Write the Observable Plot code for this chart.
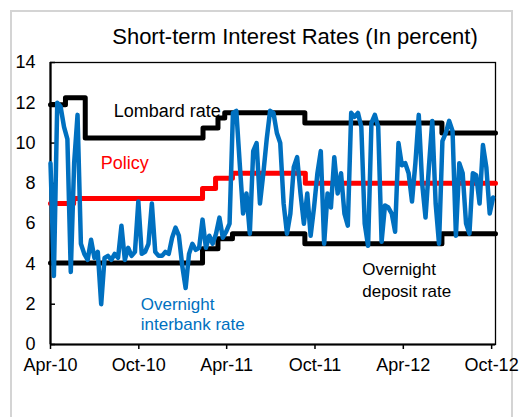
<!DOCTYPE html>
<html><head><meta charset="utf-8">
<script src="https://cdn.jsdelivr.net/npm/d3@7"></script>
<script src="https://cdn.jsdelivr.net/npm/@observablehq/plot@0.6"></script>
<style>
body{margin:0;background:#fff;}
#wrap{position:relative;width:526px;height:417px;overflow:hidden;font-family:"Liberation Sans",Arial,sans-serif;}
#border{position:absolute;left:10px;top:10px;width:503px;height:430px;border:2px solid #d4d4d4;box-sizing:border-box;}
#chart{position:absolute;left:0;top:0;}
</style></head><body>
<div id="wrap"><div id="border"></div><div id="chart"></div></div>
<script>
const title = "Short-term Interest Rates (In percent)";
const yTicks = [0, 2, 4, 6, 8, 10, 12, 14];
const xTickDates = ["2010-04-01", "2010-10-01", "2011-04-01", "2011-10-01", "2012-04-01", "2012-10-01"];
const xDomain = ["2010-04-01", "2012-10-09"];

const lombardDates = ["2010-04-01", "2010-05-02", "2010-06-12", "2011-02-11", "2011-03-14", "2011-03-28", "2011-09-10", "2012-06-20", "2012-10-09"];
const lombardValues = [11.9, 12.25, 10.25, 10.75, 11.25, 11.5, 11.0, 10.5, 10.5];

const policyDates = ["2010-04-01", "2010-05-19", "2011-02-10", "2011-03-09", "2011-04-13", "2011-09-11", "2012-10-09"];
const policyValues = [7.0, 7.25, 7.75, 8.25, 8.5, 8.0, 8.0];

const depositDates = ["2010-04-01", "2011-02-10", "2011-03-14", "2011-04-13", "2011-09-10", "2012-06-20", "2012-10-09"];
const depositValues = [4.05, 4.75, 5.25, 5.5, 5.0, 5.5, 5.5];

// overnight interbank rate, weekly readings starting 2010-04-01
const interbankStart = "2010-04-01";
const interbankValues = [
  9.0, 3.4, 12.0, 11.8, 10.8, 10.2, 3.6, 9.0, 11.4, 5.0,
  4.5, 4.2, 5.2, 4.3, 4.6, 2.0, 4.3, 4.4, 4.2, 4.5,
  4.3, 5.9, 4.2, 4.8, 4.4, 4.6, 7.1, 4.5, 4.6, 5.0,
  7.0, 4.6, 4.4, 4.4, 4.6, 4.5, 5.3, 5.8, 5.4, 3.9,
  2.8, 4.5, 5.0, 4.7, 4.8, 6.2, 4.8, 5.4, 5.0, 5.5,
  6.3, 5.3, 5.6, 6.0, 11.5, 11.6, 9.0, 6.5, 7.5, 5.5,
  9.6, 10.0, 7.0, 8.5, 10.2, 11.6, 11.5, 10.5, 10.0, 7.0,
  5.5, 6.5, 8.8, 9.3, 7.5, 6.0, 7.5, 5.4, 6.8, 8.5,
  9.6, 5.0, 7.5, 6.8, 9.3, 7.5, 8.5, 6.5, 5.9, 11.5,
  11.3, 11.5, 10.8, 6.0, 4.9, 11.0, 11.4, 10.8, 5.1, 6.9,
  6.8, 6.5, 5.6, 10.0, 8.9, 9.0, 8.5, 7.1, 9.0, 11.4,
  8.0, 6.3, 8.8, 11.1, 7.0, 5.0, 10.1, 10.5, 11.1, 10.6,
  5.4, 9.0, 8.5, 6.0, 5.5, 8.5, 8.4, 7.0, 9.9, 8.8,
  6.5, 7.3
];

const parse = d3.utcParse("%Y-%m-%d");
const toSeries = (dates, values) => dates.map((d, i) => ({date: parse(d), value: values[i]}));
const lombard = toSeries(lombardDates, lombardValues);
const policy = toSeries(policyDates, policyValues);
const deposit = toSeries(depositDates, depositValues);
const interbank = interbankValues.map((v, i) => ({date: d3.utcDay.offset(parse(interbankStart), 7 * i), value: v}));

const at = (s) => () => parse(s);
const val = (v) => () => v;

const chart = Plot.plot({
  width: 526,
  height: 417,
  marginLeft: 50,
  marginRight: 31,
  marginTop: 62,
  marginBottom: 73,
  style: {fontFamily: "'Liberation Sans', Arial, sans-serif", fontSize: "18px", color: "black", background: "transparent", overflow: "visible"},
  x: {type: "utc", domain: xDomain.map(parse), label: null},
  y: {domain: [0, 14], label: null},
  marks: [
    Plot.frame({stroke: "black", strokeWidth: 1.3}),
    Plot.axisY(yTicks, {tickSize: -5, text: null, strokeWidth: 1.5, label: null}),
    Plot.axisY(yTicks, {tickSize: 0, tickPadding: 15, fontSize: 18, label: null}),
    Plot.axisX(xTickDates.map(parse), {tickSize: 5, tickPadding: 9, strokeWidth: 1.5, tickFormat: d3.utcFormat("%b-%y"), fontSize: 18, label: null}),
    Plot.ruleX([parse(xDomain[0])], {stroke: "black", strokeWidth: 2.2}),
    Plot.ruleY([0], {stroke: "black", strokeWidth: 2.2}),
    Plot.line(lombard, {x: "date", y: "value", curve: "step-after", stroke: "black", strokeWidth: 5}),
    Plot.line(deposit, {x: "date", y: "value", curve: "step-after", stroke: "black", strokeWidth: 5}),
    Plot.line(policy, {x: "date", y: "value", curve: "step-after", stroke: "#ff0000", strokeWidth: 5}),
    Plot.line(interbank, {x: "date", y: "value", stroke: "#0070c0", strokeWidth: 4.5, strokeLinejoin: "round", strokeLinecap: "round"}),
    Plot.text(["Lombard rate"], {x: at("2010-08-10"), y: val(11.56), textAnchor: "start", lineAnchor: "middle", fill: "black", fontSize: 18}),
    Plot.text(["Policy"], {x: at("2010-07-14"), y: val(9.0), textAnchor: "start", lineAnchor: "middle", fill: "#ff0000", fontSize: 18}),
    Plot.text(["Overnight"], {x: at("2010-10-05"), y: val(1.98), textAnchor: "start", lineAnchor: "middle", fill: "#0070c0", fontSize: 17}),
    Plot.text(["interbank rate"], {x: at("2010-10-05"), y: val(1.0), textAnchor: "start", lineAnchor: "middle", fill: "#0070c0", fontSize: 17}),
    Plot.text(["Overnight"], {x: at("2012-01-07"), y: val(3.7), textAnchor: "start", lineAnchor: "middle", fill: "black", fontSize: 17}),
    Plot.text(["deposit rate"], {x: at("2012-01-07"), y: val(2.64), textAnchor: "start", lineAnchor: "middle", fill: "black", fontSize: 17}),
    Plot.text([title], {frameAnchor: "top", dx: 22, dy: -25.5, lineAnchor: "middle", fill: "black", fontSize: 22})
  ]
});
document.getElementById("chart").appendChild(chart);
</script>
</body></html>
